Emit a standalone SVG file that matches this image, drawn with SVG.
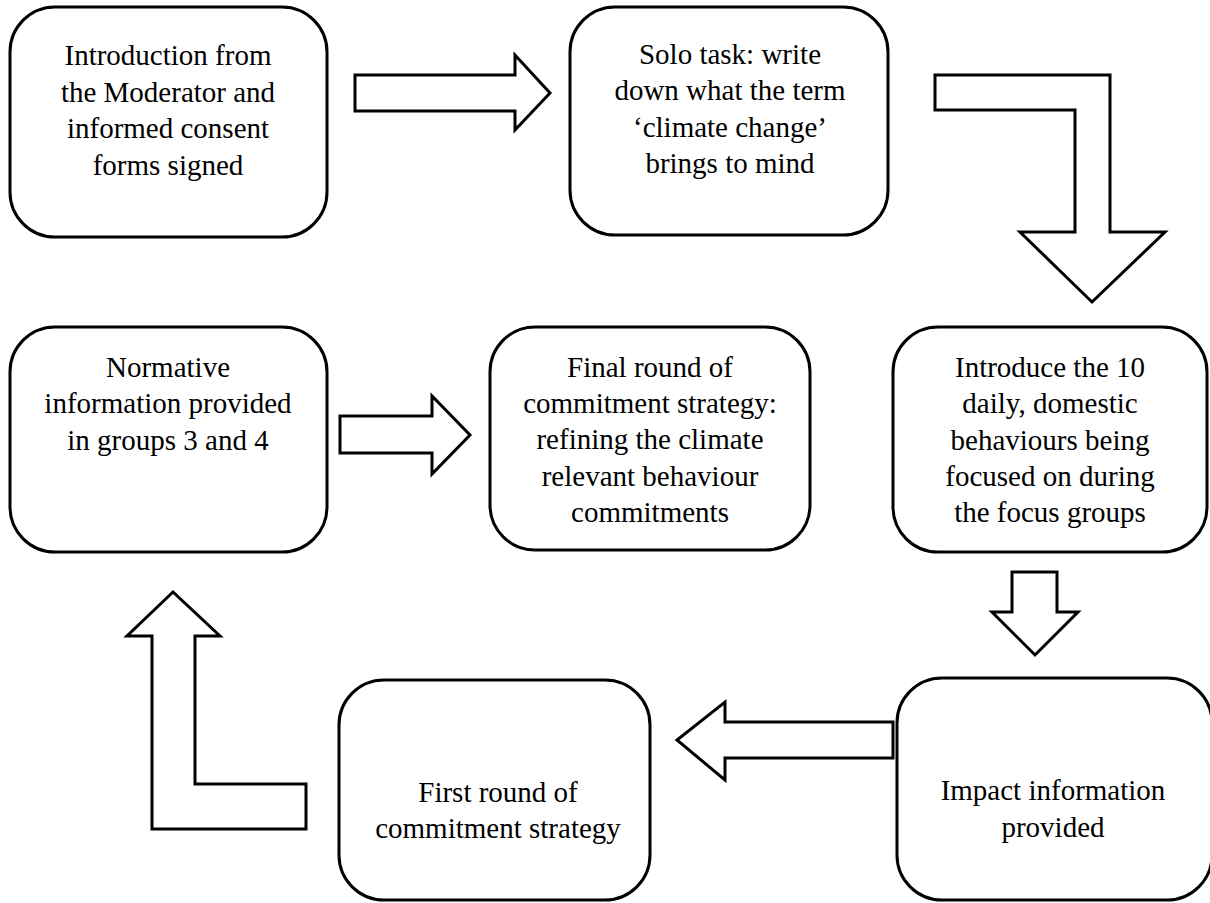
<svg xmlns="http://www.w3.org/2000/svg" width="1210" height="903" viewBox="0 0 1210 903">
<style>
.box{fill:#fff;stroke:#000;stroke-width:3}
.arr{fill:#fff;stroke:#000;stroke-width:3;stroke-linejoin:miter}
.t{font-size:29px;fill:#000;text-anchor:middle}
</style>
<rect width="1210" height="903" fill="#fff"/>
<g id="connectors">
<polygon class="arr" points="355,75 515,75 515,55 550,93 515,130 515,111 355,111"/>
<polygon class="arr" points="935,75 1110,75 1110,232 1165,232 1092,302 1020,232 1075,232 1075,110 935,110"/>
<polygon class="arr" points="340,416 432,416 432,396 470,435 432,474 432,453 340,453"/>
<polygon class="arr" points="1012,572 1057,572 1057,612 1078,612 1035,655 992,612 1012,612"/>
<polygon class="arr" points="893,722 725,722 725,702 677,740 725,780 725,758 893,758"/>
<polygon class="arr" points="306,784 195,784 195,636 220,636 173,592 127,636 152,636 152,829 306,829"/>
</g>
<g font-family="Liberation Serif, Tinos, DejaVu Serif, serif">
<g id="n1"><rect class="box" x="10" y="7" width="317" height="230" rx="45"/>
<text class="t" x="168" y="65">Introduction from</text><text class="t" x="168" y="102">the Moderator and</text><text class="t" x="168" y="138">informed consent</text><text class="t" x="168" y="175">forms signed</text></g>
<g id="n2"><rect class="box" x="570" y="7" width="318" height="228" rx="45"/>
<text class="t" x="730" y="64">Solo task: write</text><text class="t" x="730" y="100">down what the term</text><text class="t" x="730" y="137">‘climate change’</text><text class="t" x="730" y="173">brings to mind</text></g>
<g id="n3"><rect class="box" x="10" y="327" width="317" height="225" rx="45"/>
<text class="t" x="168" y="377">Normative</text><text class="t" x="168" y="413">information provided</text><text class="t" x="168" y="450">in groups 3 and 4</text></g>
<g id="n4"><rect class="box" x="490" y="327" width="320" height="223" rx="45"/>
<text class="t" x="650" y="377">Final round of</text><text class="t" x="650" y="413">commitment strategy:</text><text class="t" x="650" y="449">refining the climate</text><text class="t" x="650" y="486">relevant behaviour</text><text class="t" x="650" y="522">commitments</text></g>
<g id="n5"><rect class="box" x="893" y="327" width="314" height="225" rx="45"/>
<text class="t" x="1050" y="377">Introduce the 10</text><text class="t" x="1050" y="413">daily, domestic</text><text class="t" x="1050" y="450">behaviours being</text><text class="t" x="1050" y="486">focused on during</text><text class="t" x="1050" y="522">the focus groups</text></g>
<g id="n6"><rect class="box" x="339" y="680" width="311" height="220" rx="45"/>
<text class="t" x="498" y="802">First round of</text><text class="t" x="498" y="838">commitment strategy</text></g>
<g id="n7"><rect class="box" x="897" y="678" width="315" height="222" rx="45"/>
<text class="t" x="1053" y="800">Impact information</text><text class="t" x="1053" y="837">provided</text></g>
</g>
</svg>
